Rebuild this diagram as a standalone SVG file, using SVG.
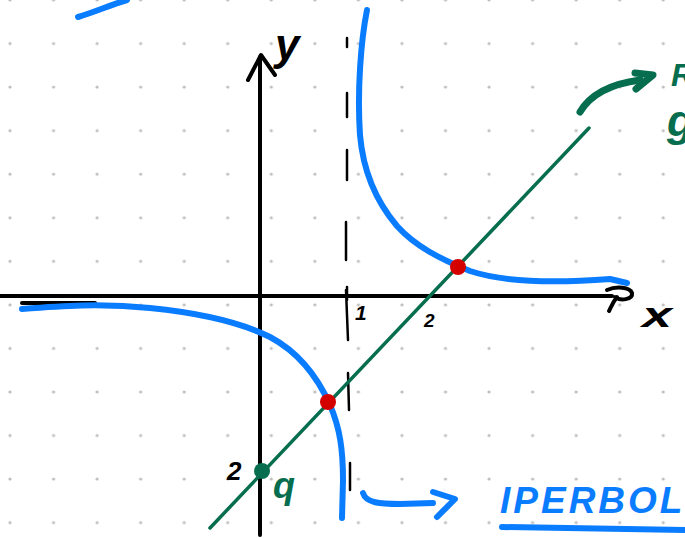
<svg xmlns="http://www.w3.org/2000/svg" width="685" height="538" viewBox="0 0 685 538">
<style>
.ax{stroke:#000;stroke-width:4;fill:none;stroke-linecap:round;stroke-linejoin:round}
.dash{stroke:#000;stroke-width:2.5;fill:none;stroke-linecap:round}
.blue{stroke:#0a7cff;stroke-width:6;fill:none;stroke-linecap:round;stroke-linejoin:round}
.green{stroke:#066e4e;stroke-width:3.5;fill:none;stroke-linecap:round}
.gthick{stroke:#066e4e;stroke-width:7;fill:none;stroke-linecap:round;stroke-linejoin:round}
.lbl{font-family:"Liberation Sans",Arial,sans-serif;font-weight:bold;font-style:italic}
</style>
<defs>
<pattern id="dots" patternUnits="userSpaceOnUse" x="-11.775" y="-21.775" width="43.55" height="43.55">
<circle cx="21.775" cy="21.775" r="1.6" fill="#bdbdbd"/>
</pattern>
</defs>
<rect width="685" height="538" fill="#fff"/>
<rect width="685" height="538" fill="url(#dots)"/>

<g id="top-left-stroke">
<path class="blue" d="M78,17 C95,12 110,5 127,0"/>
</g>

<g id="axes">
<path class="ax" d="M0,296 L612,296"/>
<path class="ax" d="M22,303 L95,303"/>
<path class="ax" d="M607,290 C616,286 630,287 632,293 C633,300 620,301 615,297 M617,297 C613,302 611,307 609,311"/>
<path class="ax" d="M260,535 L260,57"/>
<path class="ax" d="M248,80 L261,55 L275,75"/>
</g>

<g id="asymptote">
<path class="dash" d="M347,38 L347,47 M347,93 L347,117 M347,150 L347,180 M346,222 L346,260 M347,287 L347,300 M346,290 L348,340 M348,373 L349,410 M350,463 L350,490"/>
</g>

<g id="hyperbola">
<path class="blue" d="M22,309 C60,306 100,303 150,308 C200,313 240,322 270,337 C300,353 318,378 330,405 C340,428 343,450 343,480 L342,518"/>
<path class="blue" d="M367,10 C361,40 357,90 360,135 C363,170 375,200 397,226 C415,246 440,259 470,271 C500,281 545,284 610,279 L627,283"/>
</g>

<g id="connectors">
<path class="green" d="M210,528 L589,128"/>
<path class="gthick" d="M580,112 C590,95 610,84 640,80 M635,73 L653,75 L636,89"/>
<path class="blue" d="M363,493 C366,503 380,504 400,504 L433,503 M433,492 L455,499 L437,517"/>
<path class="blue" d="M502,527 C560,528 620,529 685,530"/>
</g>

<g id="points">
<circle cx="262" cy="471" r="8" fill="#066e4e"/>
<circle cx="328" cy="402" r="8" fill="#d40000"/>
<circle cx="458" cy="267" r="8" fill="#d40000"/>
</g>

<g id="labels">
<text class="lbl" x="275" y="60" font-size="44">y</text>
<text class="lbl" x="642" y="327" font-size="36" transform="translate(642 0) scale(1.5 1) translate(-642 0)">x</text>
<text class="lbl" x="355" y="320" font-size="21">1</text>
<text class="lbl" x="424" y="327" font-size="19">2</text>
<text class="lbl" x="227" y="480" font-size="26">2</text>
<text class="lbl" x="273" y="498" font-size="36" fill="#066e4e">q</text>
<text class="lbl" x="671" y="86" font-size="32" fill="#066e4e">R</text>
<text class="lbl" x="667" y="136" font-size="44" fill="#066e4e">g</text>
<text class="lbl" x="500" y="513" font-size="37" letter-spacing="3" fill="#0a7cff">IPERBOLE</text>
</g>
</svg>
